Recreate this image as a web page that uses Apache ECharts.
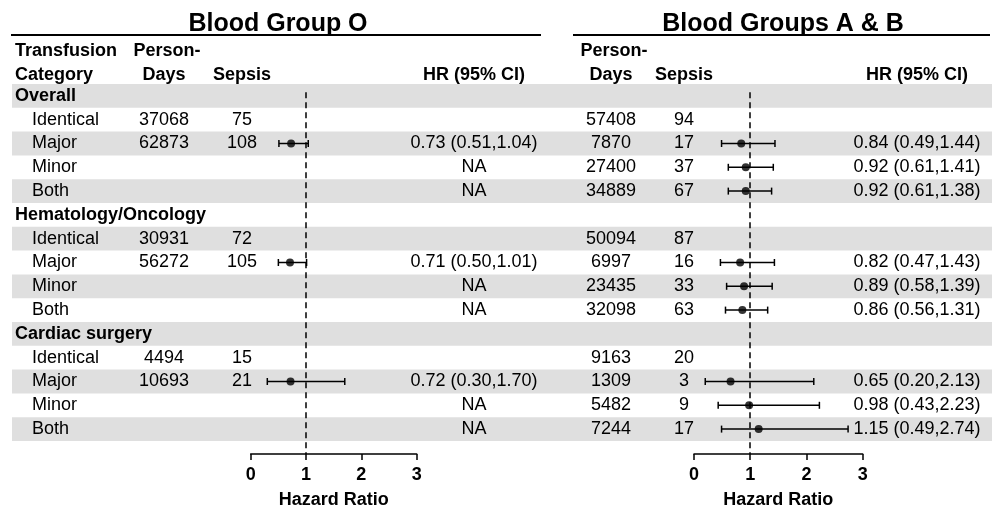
<!DOCTYPE html>
<html><head><meta charset="utf-8">
<script src="https://cdn.jsdelivr.net/npm/echarts@6.0.0/dist/echarts.min.js"></script>
<style>html,body{margin:0;padding:0;background:#fff}#c{width:992px;height:512px}</style>
</head><body><div id="c"></div>
<script>
// ---------------- DATA ----------------
const rowLabels = ['Overall','Identical','Major','Minor','Both',
  'Hematology/Oncology','Identical','Major','Minor','Both',
  'Cardiac surgery','Identical','Major','Minor','Both'];
const rowIsGroup = [1,0,0,0,0, 1,0,0,0,0, 1,0,0,0,0];

// Blood Group O
const oPersonDays = [null,37068,62873,null,null, null,30931,56272,null,null, null,4494,10693,null,null];
const oSepsis     = [null,75,108,null,null, null,72,105,null,null, null,15,21,null,null];
const oHR         = [null,null,0.73,null,null, null,null,0.71,null,null, null,null,0.72,null,null];
const oLow        = [null,null,0.51,null,null, null,null,0.50,null,null, null,null,0.30,null,null];
const oHigh       = [null,null,1.04,null,null, null,null,1.01,null,null, null,null,1.70,null,null];

// Blood Groups A & B
const abPersonDays = [null,57408,7870,27400,34889, null,50094,6997,23435,32098, null,9163,1309,5482,7244];
const abSepsis     = [null,94,17,37,67, null,87,16,33,63, null,20,3,9,17];
const abHR         = [null,null,0.84,0.92,0.92, null,null,0.82,0.89,0.86, null,null,0.65,0.98,1.15];
const abLow        = [null,null,0.49,0.61,0.61, null,null,0.47,0.58,0.56, null,null,0.20,0.43,0.49];
const abHigh       = [null,null,1.44,1.41,1.38, null,null,1.43,1.39,1.31, null,null,2.13,2.23,2.74];

const axisTicks = [0,1,2,3];
const panelTitles = ['Blood Group O','Blood Groups A & B'];
const axisName = 'Hazard Ratio';

// ---------------- LAYOUT ----------------
const FONT = '"Liberation Sans", Arial, Helvetica, sans-serif';
const TOP = 84, ROW_H = 23.8, AXIS_Y = 454;
const SPAN = (AXIS_Y - TOP) / ROW_H;
const STRIPE = '#dfdfdf';
const INK = '#000';

function hrText(hr, lo, hi, i, naAllowed) {
  if (rowIsGroup[i] || rowLabels[i] === 'Identical') return '';
  if (hr == null) return naAllowed ? 'NA' : '';
  return hr.toFixed(2) + ' (' + lo.toFixed(2) + ',' + hi.toFixed(2) + ')';
}
const oHRText = rowLabels.map((_, i) => hrText(oHR[i], oLow[i], oHigh[i], i, true));
const abHRText = rowLabels.map((_, i) => hrText(abHR[i], abLow[i], abHigh[i], i, true));

function textSeries(colX, values, align, bold) {
  const items = [];
  values.forEach((v, i) => { if (v !== null && v !== '') items.push({x: typeof colX === 'function' ? colX(i) : colX, y: i + 0.5, t: String(v), b: typeof bold === 'function' ? bold(i) : bold}); });
  return {
    type: 'custom', xAxisIndex: 0, yAxisIndex: 0, silent: true, z: 5,
    data: items.map(d => [d.x, d.y]),
    renderItem: (params, api) => {
      const d = items[params.dataIndex];
      const p = api.coord([d.x, d.y]);
      return {type: 'text', x: p[0], y: p[1], style: {
        text: d.t, fill: INK, textAlign: align, textVerticalAlign: 'middle',
        font: (d.b ? 'bold ' : '') + '18px ' + FONT }};
    }
  };
}

function stripeSeries() {
  const rows = rowLabels.map((_, i) => i).filter(i => i % 2 === 0);
  return {
    type: 'custom', xAxisIndex: 0, yAxisIndex: 0, silent: true, z: 0,
    data: rows.map(i => [12, i]),
    renderItem: (params, api) => {
      const i = rows[params.dataIndex];
      const p1 = api.coord([12, i]), p2 = api.coord([992, i + 1]);
      return {type: 'rect', shape: {x: p1[0], y: p1[1], width: p2[0] - p1[0], height: p2[1] - p1[1]},
        style: {fill: STRIPE}};
    }
  };
}

function errorSeries(g, hr, lo, hi) {
  const items = [];
  hr.forEach((v, i) => { if (v != null) items.push([lo[i], hi[i], i + 0.5]); });
  return {
    type: 'custom', xAxisIndex: g, yAxisIndex: g, silent: true, z: 6,
    data: items,
    renderItem: (params, api) => {
      const a = api.coord([api.value(0), api.value(2)]);
      const b = api.coord([api.value(1), api.value(2)]);
      const cap = 3.5;
      const st = {stroke: INK, lineWidth: 1.5};
      return {type: 'group', children: [
        {type: 'line', shape: {x1: a[0], y1: a[1], x2: b[0], y2: b[1]}, style: st},
        {type: 'line', shape: {x1: a[0], y1: a[1] - cap, x2: a[0], y2: a[1] + cap}, style: st},
        {type: 'line', shape: {x1: b[0], y1: b[1] - cap, x2: b[0], y2: b[1] + cap}, style: st}
      ]};
    }
  };
}

function pointSeries(g, hr) {
  const pts = [];
  hr.forEach((v, i) => { if (v != null) pts.push([v, i + 0.5]); });
  return {
    type: 'scatter', xAxisIndex: g, yAxisIndex: g, silent: true, z: 7,
    symbol: 'circle', symbolSize: 8, itemStyle: {color: INK},
    data: pts,
    markLine: {silent: true, symbol: 'none', label: {show: false},
      lineStyle: {color: INK, width: 1.5, type: [6, 4]},
      data: [[{coord: [1, 0.35]}, {coord: [1, SPAN]}]]}
  };
}

function forestX(g) {
  return {
    type: 'value', gridIndex: g, min: 0, max: 3, interval: 1, position: 'bottom',
    axisLine: {show: true, onZero: false, lineStyle: {color: INK, width: 1.5}},
    axisTick: {show: true, length: 6, lineStyle: {color: INK, width: 1.5}},
    axisLabel: {color: INK, fontSize: 18, fontWeight: 'bold', fontFamily: FONT, margin: 12,
      formatter: v => axisTicks.includes(v) ? String(v) : ''},
    splitLine: {show: false},
    name: axisName, nameLocation: 'middle', nameGap: 37,
    nameTextStyle: {color: INK, fontSize: 18, fontWeight: 'bold', fontFamily: FONT}
  };
}
function hiddenY(g) { return {type: 'value', gridIndex: g, min: 0, max: SPAN, inverse: true, show: false}; }

// column positions (px in the table grid)
const COL = {label: 15, sub: 32, oPD: 164, oSep: 242, oHR: 474, abPD: 611, abSep: 684, abHR: 917};

const headerFont = 'bold 18px ' + FONT;
function htext(t, x, y, align) {
  return {type: 'text', x: x, y: y, silent: true,
    style: {text: t, fill: INK, font: headerFont, textAlign: align, textVerticalAlign: 'middle'}};
}

const option = {
  animation: false,
  backgroundColor: '#fff',
  grid: [
    {left: 0, top: TOP, width: 992, height: AXIS_Y - TOP, outerBoundsMode: 'none'},
    {left: 250.7, top: TOP, width: 166, height: AXIS_Y - TOP, outerBoundsMode: 'none'},
    {left: 694, top: TOP, width: 168.7, height: AXIS_Y - TOP, outerBoundsMode: 'none'}
  ],
  xAxis: [
    {type: 'value', gridIndex: 0, min: 0, max: 992, show: false},
    forestX(1), forestX(2)
  ],
  yAxis: [hiddenY(0), hiddenY(1), hiddenY(2)],
  graphic: [
    {type: 'text', x: 278, y: 24, silent: true, style: {text: panelTitles[0], fill: INK, font: 'bold 25px ' + FONT, textAlign: 'center', textVerticalAlign: 'middle'}},
    {type: 'text', x: 783, y: 24, silent: true, style: {text: panelTitles[1], fill: INK, font: 'bold 25px ' + FONT, textAlign: 'center', textVerticalAlign: 'middle'}},
    {type: 'line', silent: true, shape: {x1: 11, y1: 35, x2: 541, y2: 35}, style: {stroke: INK, lineWidth: 2}},
    {type: 'line', silent: true, shape: {x1: 573, y1: 35, x2: 990, y2: 35}, style: {stroke: INK, lineWidth: 2}},
    htext('Transfusion', COL.label, 51, 'left'),
    htext('Person-', COL.oPD + 3, 51, 'center'),
    htext('Category', COL.label, 75, 'left'),
    htext('Days', COL.oPD, 75, 'center'),
    htext('Sepsis', COL.oSep, 75, 'center'),
    htext('HR (95% CI)', COL.oHR, 75, 'center'),
    htext('Person-', COL.abPD + 3, 51, 'center'),
    htext('Days', COL.abPD, 75, 'center'),
    htext('Sepsis', COL.abSep, 75, 'center'),
    htext('HR (95% CI)', COL.abHR, 75, 'center')
  ],
  series: [
    stripeSeries(),
    textSeries(i => rowIsGroup[i] ? COL.label : COL.sub, rowLabels, 'left', i => !!rowIsGroup[i]),
    textSeries(COL.oPD, oPersonDays, 'center', false),
    textSeries(COL.oSep, oSepsis, 'center', false),
    textSeries(COL.oHR, oHRText, 'center', false),
    textSeries(COL.abPD, abPersonDays, 'center', false),
    textSeries(COL.abSep, abSepsis, 'center', false),
    textSeries(COL.abHR, abHRText, 'center', false),
    errorSeries(1, oHR, oLow, oHigh), pointSeries(1, oHR),
    errorSeries(2, abHR, abLow, abHigh), pointSeries(2, abHR)
  ]
};
const chart = echarts.init(document.getElementById('c'), null, {renderer: 'canvas'});
chart.setOption(option);
</script>
</body></html>
